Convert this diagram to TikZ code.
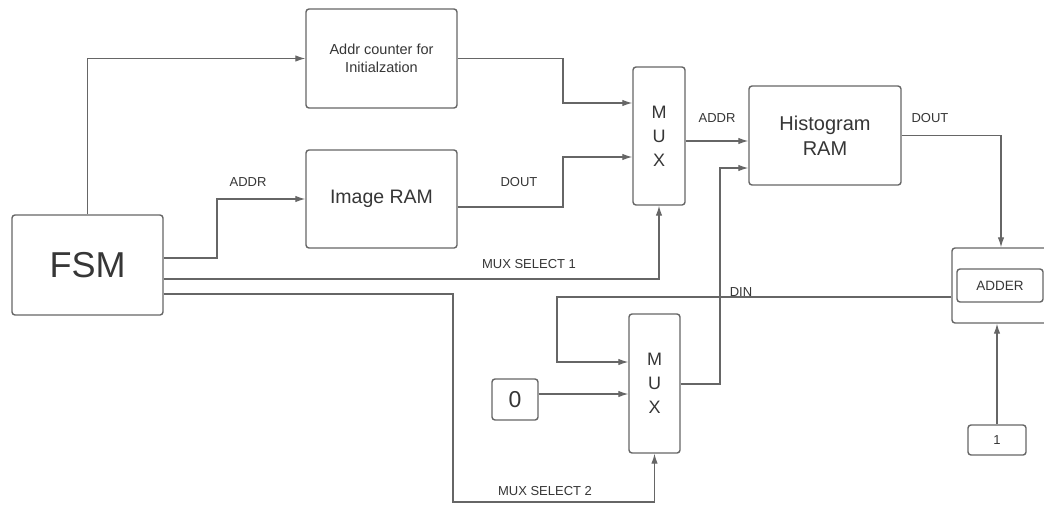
\documentclass[tikz,border=0pt]{standalone}
\usepackage{fontspec}
\setmainfont{Liberation Sans}
\usetikzlibrary{arrows.meta,calc}
\definecolor{linec}{HTML}{666666}
\definecolor{textc}{HTML}{363636}
\tikzset{
  blk/.style={draw=linec, line width=1.4pt, rounded corners=3pt, text=textc, inner sep=0pt, align=center},
  conn/.style={draw=linec, line width=1.2pt, -{Latex[length=10pt,width=6.5pt]}},
  lbl/.style={text=textc, font=\fontsize{13}{15}\selectfont, inner sep=0pt}
}
\begin{document}
\begin{tikzpicture}[x=1pt,y=-1pt]
\clip (0,0) rectangle (1044,504);
\fill[white] (0,0) rectangle (1044,504);
% blocks
\node[blk, minimum width=151pt, minimum height=100pt, font=\fontsize{36}{40}\selectfont] (fsm) at (87.5,265) {FSM};
\node[blk, minimum width=151pt, minimum height=99pt, font=\fontsize{14.5}{18}\selectfont] (addr) at (381.5,58.5) {Addr counter for\\Initialzation};
\node[blk, minimum width=151pt, minimum height=98pt, font=\fontsize{19.5}{22}\selectfont] (img) at (381.5,199) {Image RAM};
\node[blk, minimum width=52pt, minimum height=138pt, font=\fontsize{18}{24}\selectfont] (muxa) at (659,136) {M\\U\\X};
\node[blk, minimum width=152pt, minimum height=99pt, font=\fontsize{20}{25}\selectfont] (hist) at (825,135.5) {Histogram\\RAM};
\node[blk, minimum width=98pt, minimum height=75pt] (addo) at (1001,285.5) {};
\node[blk, minimum width=86pt, minimum height=33pt, font=\fontsize{13.5}{16}\selectfont] (addi) at (1000,285.5) {ADDER};
\node[blk, minimum width=51pt, minimum height=139pt, font=\fontsize{18}{24}\selectfont] (muxb) at (654.5,383.5) {M\\U\\X};
\node[blk, minimum width=46pt, minimum height=41pt, font=\fontsize{23}{26}\selectfont] (zero) at (515,399.5) {0};
\node[blk, minimum width=58pt, minimum height=30pt, font=\fontsize{13}{15}\selectfont] (one) at (997,440) {1};
% connectors
\draw[conn] (fsm.north) |- (addr.west);
\draw[conn] (fsm.east |- 0,258) -| (217,199) -- (img.west);
\draw[conn] (addr.east) -| (563,103) -- (muxa.west |- 0,103);
\draw[conn] (img.east |- 0,207) -| (563,157) -- (muxa.west |- 0,157);
\draw[conn] (muxa.east |- 0,141) -- (hist.west |- 0,141);
\draw[conn] (fsm.east |- 0,279) -| (muxa.south);
\draw[conn] (fsm.east |- 0,294) -| (453,502) -| (muxb.south);
\draw[conn] (hist.east) -| (addo.north);
\draw[conn] (addo.west |- 0,297) -| (557,362) -- (muxb.west |- 0,362);
\draw[conn] (zero.east |- 0,394) -- (muxb.west |- 0,394);
\draw[conn] (muxb.east |- 0,384) -| (720,168) -- (hist.west |- 0,168);
\draw[conn] (one.north) -- (one.north |- addo.south);
% labels
\node[lbl] (l1) at (248,182) {ADDR};
\node[lbl] (l2) at (519,182) {DOUT};
\node[lbl] (l3) at (717,118) {ADDR};
\node[lbl] (l4) at (930,118) {DOUT};
\node[lbl] (l5) at (529,264) {MUX SELECT 1};
\node[lbl] (l6) at (741,292) {DIN};
\node[lbl] (l7) at (545,491) {MUX SELECT 2};
\end{tikzpicture}
\end{document}
